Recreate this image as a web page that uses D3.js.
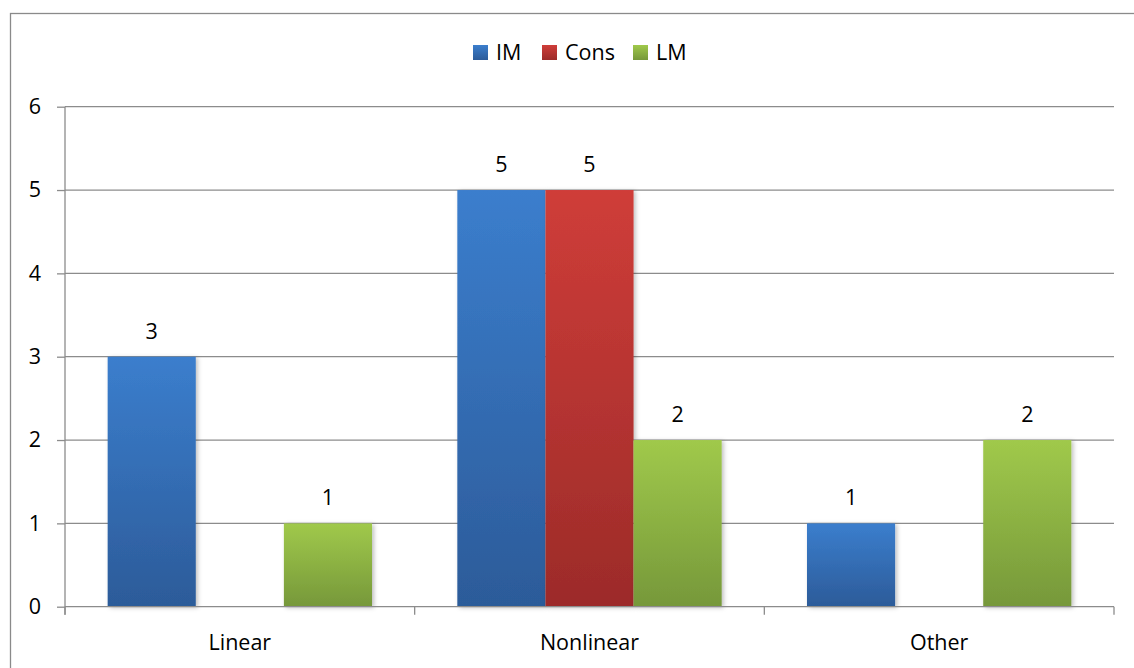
<!DOCTYPE html>
<html>
<head>
<meta charset="utf-8">
<script src="https://cdn.jsdelivr.net/npm/d3@7"></script>
<style>
  html, body { margin: 0; padding: 0; background: #fff; }
  svg { display: block; font-family: "Open Sans", "Liberation Sans", sans-serif; }
</style>
</head>
<body>
<svg id="chart" width="1134" height="668"></svg>
<script>
// Chart data
const categories = ["Linear", "Nonlinear", "Other"];
const seriesNames = ["IM", "Cons", "LM"];
const imValues = [3, 5, 1];
const consValues = [null, 5, null];
const lmValues = [1, 2, 2];
const yTicks = [0, 1, 2, 3, 4, 5, 6];

const seriesValues = [imValues, consValues, lmValues];
const colors = {
  IM:   { top: "#3b7ecd", bottom: "#2c5b99" },
  Cons: { top: "#cf3d39", bottom: "#9c2b29" },
  LM:   { top: "#a0c94b", bottom: "#76983a" }
};
const FS = 21.5;

const svg = d3.select("#chart");
const W = 1134, H = 668;
const margin = { left: 65, right: 20, top: 106.7, bottom: 61.3 };
const plotW = W - margin.left - margin.right;
const plotH = H - margin.top - margin.bottom;

// Gradients and shadow
const defs = svg.append("defs");
seriesNames.forEach(name => {
  const g = defs.append("linearGradient")
    .attr("id", "grad-" + name)
    .attr("x1", 0).attr("y1", 0).attr("x2", 0).attr("y2", 1);
  g.append("stop").attr("offset", "0%").attr("stop-color", colors[name].top);
  g.append("stop").attr("offset", "100%").attr("stop-color", colors[name].bottom);
});
const shadow = defs.append("filter").attr("id", "shadow")
  .attr("x", "-10%").attr("y", "-10%").attr("width", "130%").attr("height", "120%");
shadow.append("feDropShadow")
  .attr("dx", 2).attr("dy", 1).attr("stdDeviation", 2)
  .attr("flood-color", "#000").attr("flood-opacity", 0.25);

// Outer frame
svg.append("rect")
  .attr("x", 10.5).attr("y", 13.5)
  .attr("width", W + 20).attr("height", H + 20)
  .attr("fill", "none").attr("stroke", "#8a8a8a").attr("stroke-width", 1.3);

const g = svg.append("g").attr("transform", `translate(${margin.left},${margin.top})`);

const y = d3.scaleLinear().domain([0, 6]).range([plotH, 0]);
const x0 = d3.scaleBand().domain(categories).range([0, plotW]).paddingInner(0).paddingOuter(0);
const x1 = d3.scaleBand().domain(seriesNames)
  .range([x0.bandwidth() * 0.122, x0.bandwidth() * 0.878]).padding(0);

// Horizontal gridlines
g.append("g").selectAll("line").data(yTicks.filter(d => d > 0)).join("line")
  .attr("x1", 0).attr("x2", plotW)
  .attr("y1", d => y(d)).attr("y2", d => y(d))
  .attr("stroke", "#8c8c8c").attr("stroke-width", 1.3);

// Bars
const groups = g.append("g").selectAll("g").data(categories).join("g")
  .attr("transform", d => `translate(${x0(d)},0)`);

const barData = (cat, ci) => seriesNames.map((s, si) => ({ series: s, value: seriesValues[si][ci], cat }));

groups.each(function(cat, ci) {
  const data = barData(cat, ci).filter(d => d.value != null && d.value > 0);
  const gg = d3.select(this);
  gg.selectAll("rect").data(data).join("rect")
    .attr("x", d => x1(d.series))
    .attr("y", d => y(d.value))
    .attr("width", x1.bandwidth())
    .attr("height", d => y(0) - y(d.value))
    .attr("fill", d => `url(#grad-${d.series})`)
    .attr("filter", "url(#shadow)");
  gg.selectAll("text").data(data).join("text")
    .attr("x", d => x1(d.series) + x1.bandwidth() / 2)
    .attr("y", d => y(d.value) - 18)
    .attr("text-anchor", "middle")
    .attr("font-size", FS)
    .attr("fill", "#000")
    .text(d => d.value);
});

// Y axis
const yAxis = d3.axisLeft(y).tickValues(yTicks).tickSize(8).tickPadding(16).tickFormat(d3.format("d"));
const yg = g.append("g").call(yAxis);
yg.select(".domain").attr("stroke", "#8c8c8c").attr("stroke-width", 1.3).attr("d", `M0,${plotH + 8}V0`);
yg.selectAll(".tick line").attr("stroke", "#8c8c8c").attr("stroke-width", 1.3);
yg.selectAll(".tick text").attr("font-size", FS).attr("fill", "#000")
  .attr("font-family", "'Open Sans', sans-serif");

// X axis
const xAxis = d3.axisBottom(x0).tickSize(0).tickPadding(28);
const xg = g.append("g").attr("transform", `translate(0,${plotH})`).call(xAxis);
xg.select(".domain").remove();
xg.append("line").attr("x1", 0).attr("x2", plotW)
  .attr("stroke", "#8c8c8c").attr("stroke-width", 1.3);
xg.selectAll(".tick text").attr("font-size", FS).attr("fill", "#000")
  .attr("font-family", "'Open Sans', sans-serif");
// Category boundary ticks
const bounds = categories.map(c => x0(c)).concat([plotW]);
xg.append("g").selectAll("line").data(bounds).join("line")
  .attr("x1", d => d).attr("x2", d => d)
  .attr("y1", 0).attr("y2", 8)
  .attr("stroke", "#8c8c8c").attr("stroke-width", 1.3);

// Legend
const legendItems = [
  { name: "IM", x: 473 },
  { name: "Cons", x: 542 },
  { name: "LM", x: 633 }
];
const lg = svg.append("g");
const li = lg.selectAll("g").data(legendItems).join("g")
  .attr("transform", d => `translate(${d.x},45)`);
li.append("rect").attr("width", 15).attr("height", 15)
  .attr("fill", d => `url(#grad-${d.name})`);
li.append("text").attr("x", 23).attr("y", 15)
  .attr("font-size", FS).attr("fill", "#000")
  .text(d => d.name);
</script>
</body>
</html>
